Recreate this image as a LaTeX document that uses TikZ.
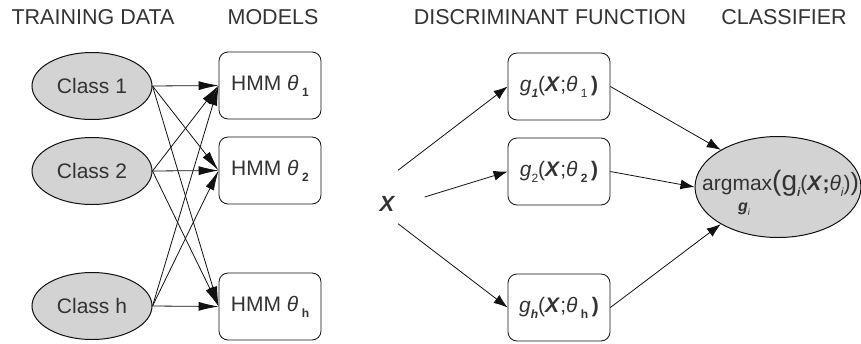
\documentclass[tikz,border=0pt]{standalone}
\usepackage{fontspec}
\setmainfont{Liberation Sans}
\usetikzlibrary{arrows.meta,positioning,shapes.geometric}
\definecolor{txtc}{HTML}{333333}
\definecolor{linec}{HTML}{111111}
\definecolor{clsfill}{HTML}{D3D3D3}
\newcommand{\lowsub}[1]{\raisebox{-6pt}{\fontsize{12}{12}\selectfont #1}}
\tikzset{
  arl/.style={-{Latex[length=20pt,width=9pt]},linec,line width=0.8pt},
  arr/.style={-{Latex[length=14pt,width=10pt]},linec,line width=0.8pt},
  cls/.style={ellipse,draw=linec,line width=1pt,fill=clsfill,inner sep=0pt,text=txtc},
  box/.style={draw=linec,line width=0.8pt,rounded corners=9pt,fill=white,minimum width=102pt,minimum height=67pt,inner sep=0pt,text=txtc,font=\fontsize{21}{24}\selectfont},
  ttl/.style={text=txtc,font=\fontsize{21.5}{24}\selectfont,inner sep=0pt}
}

\begin{document}
\begin{tikzpicture}[x=1pt,y=-1pt]
\useasboundingbox (0,0) rectangle (861,343);
% titles
\node[ttl] (ttrain) at (93,17.5) {TRAINING DATA};
\node[ttl] (tmodel) at (273,17.5) {MODELS};
\node[ttl] (tdisc) at (550,17.5) {DISCRIMINANT FUNCTION};
\node[ttl] (tclass) at (784,17.5) {CLASSIFIER};
% training data
\node[cls,minimum width=120pt,minimum height=67pt,font=\fontsize{21}{24}\selectfont] (c1) at (92,86) {Class 1};
\node[cls,minimum width=120pt,minimum height=67pt,font=\fontsize{21}{24}\selectfont] (c2) at (92,171) {Class 2};
\node[cls,minimum width=120pt,minimum height=67pt,font=\fontsize{21}{24}\selectfont] (ch) at (92,306) {Class h};
% models
\node[box] (m1) at (270,85.5) {HMM \textit{θ}\,\lowsub{\bfseries 1}};
\node[box] (m2) at (270,170.5) {HMM \textit{θ}\,\lowsub{\bfseries 2}};
\node[box] (mh) at (270,306.5) {HMM \textit{θ}\,\lowsub{\bfseries h}};
\foreach \s in {c1,c2,ch}
  \foreach \t in {m1,m2,mh}
    \draw[arl] (\s.east) -- (\t.west);
% discriminant functions
\node[minimum size=53pt,inner sep=0pt] (xin) at (398,197) {};
\node[text=txtc,font=\fontsize{22}{24}\selectfont\bfseries\itshape,inner sep=0pt] (xlab) at (387,204) {X};
\node[box] (g1) at (559,86.5) {\textit{g}\lowsub{\bfseries\itshape 1}(\textbf{\textit{X}};\textit{θ}\,\lowsub{1}\,\textbf{)}};
\node[box] (g2) at (559,171.5) {\textit{g}\lowsub{2}(\textbf{\textit{X}};\textit{θ}\,\lowsub{\bfseries 2}\,\textbf{)}};
\node[box] (gh) at (559,307.5) {\textit{g}\lowsub{\bfseries\itshape h}(\textbf{\textit{X}};\textit{θ}\,\lowsub{\bfseries h}\,\textbf{)}};
\draw[arr] (xin.north) -- (g1.west);
\draw[arr] (xin.east) -- (g2.west);
\draw[arr] (xin.south) -- (gh.west);
% classifier
\node[cls,minimum width=166pt,minimum height=101pt] (clf) at (778,187) {};
\node[anchor=base west,inner sep=0pt,text=txtc,font=\fontsize{21}{22}\selectfont] (argtxt) at (702,190)
  {argmax{\fontsize{28}{28}\selectfont(g}\lowsub{\bfseries\itshape i}(\textbf{\textit{X};}\textit{θ}\lowsub{\itshape i}){\fontsize{25}{25}\selectfont)}};
\node[inner sep=0pt,text=txtc,font=\fontsize{16}{16}\selectfont\bfseries\itshape] (gsub) at (744,209) {g\raisebox{-4pt}{\fontsize{9}{9}\selectfont\mdseries i}};
\draw[arr] (g1.east) -- (clf.147);
\draw[arr] (g2.east) -- (clf.west);
\draw[arr] (gh.east) -- (clf.213);
\end{tikzpicture}
\end{document}
